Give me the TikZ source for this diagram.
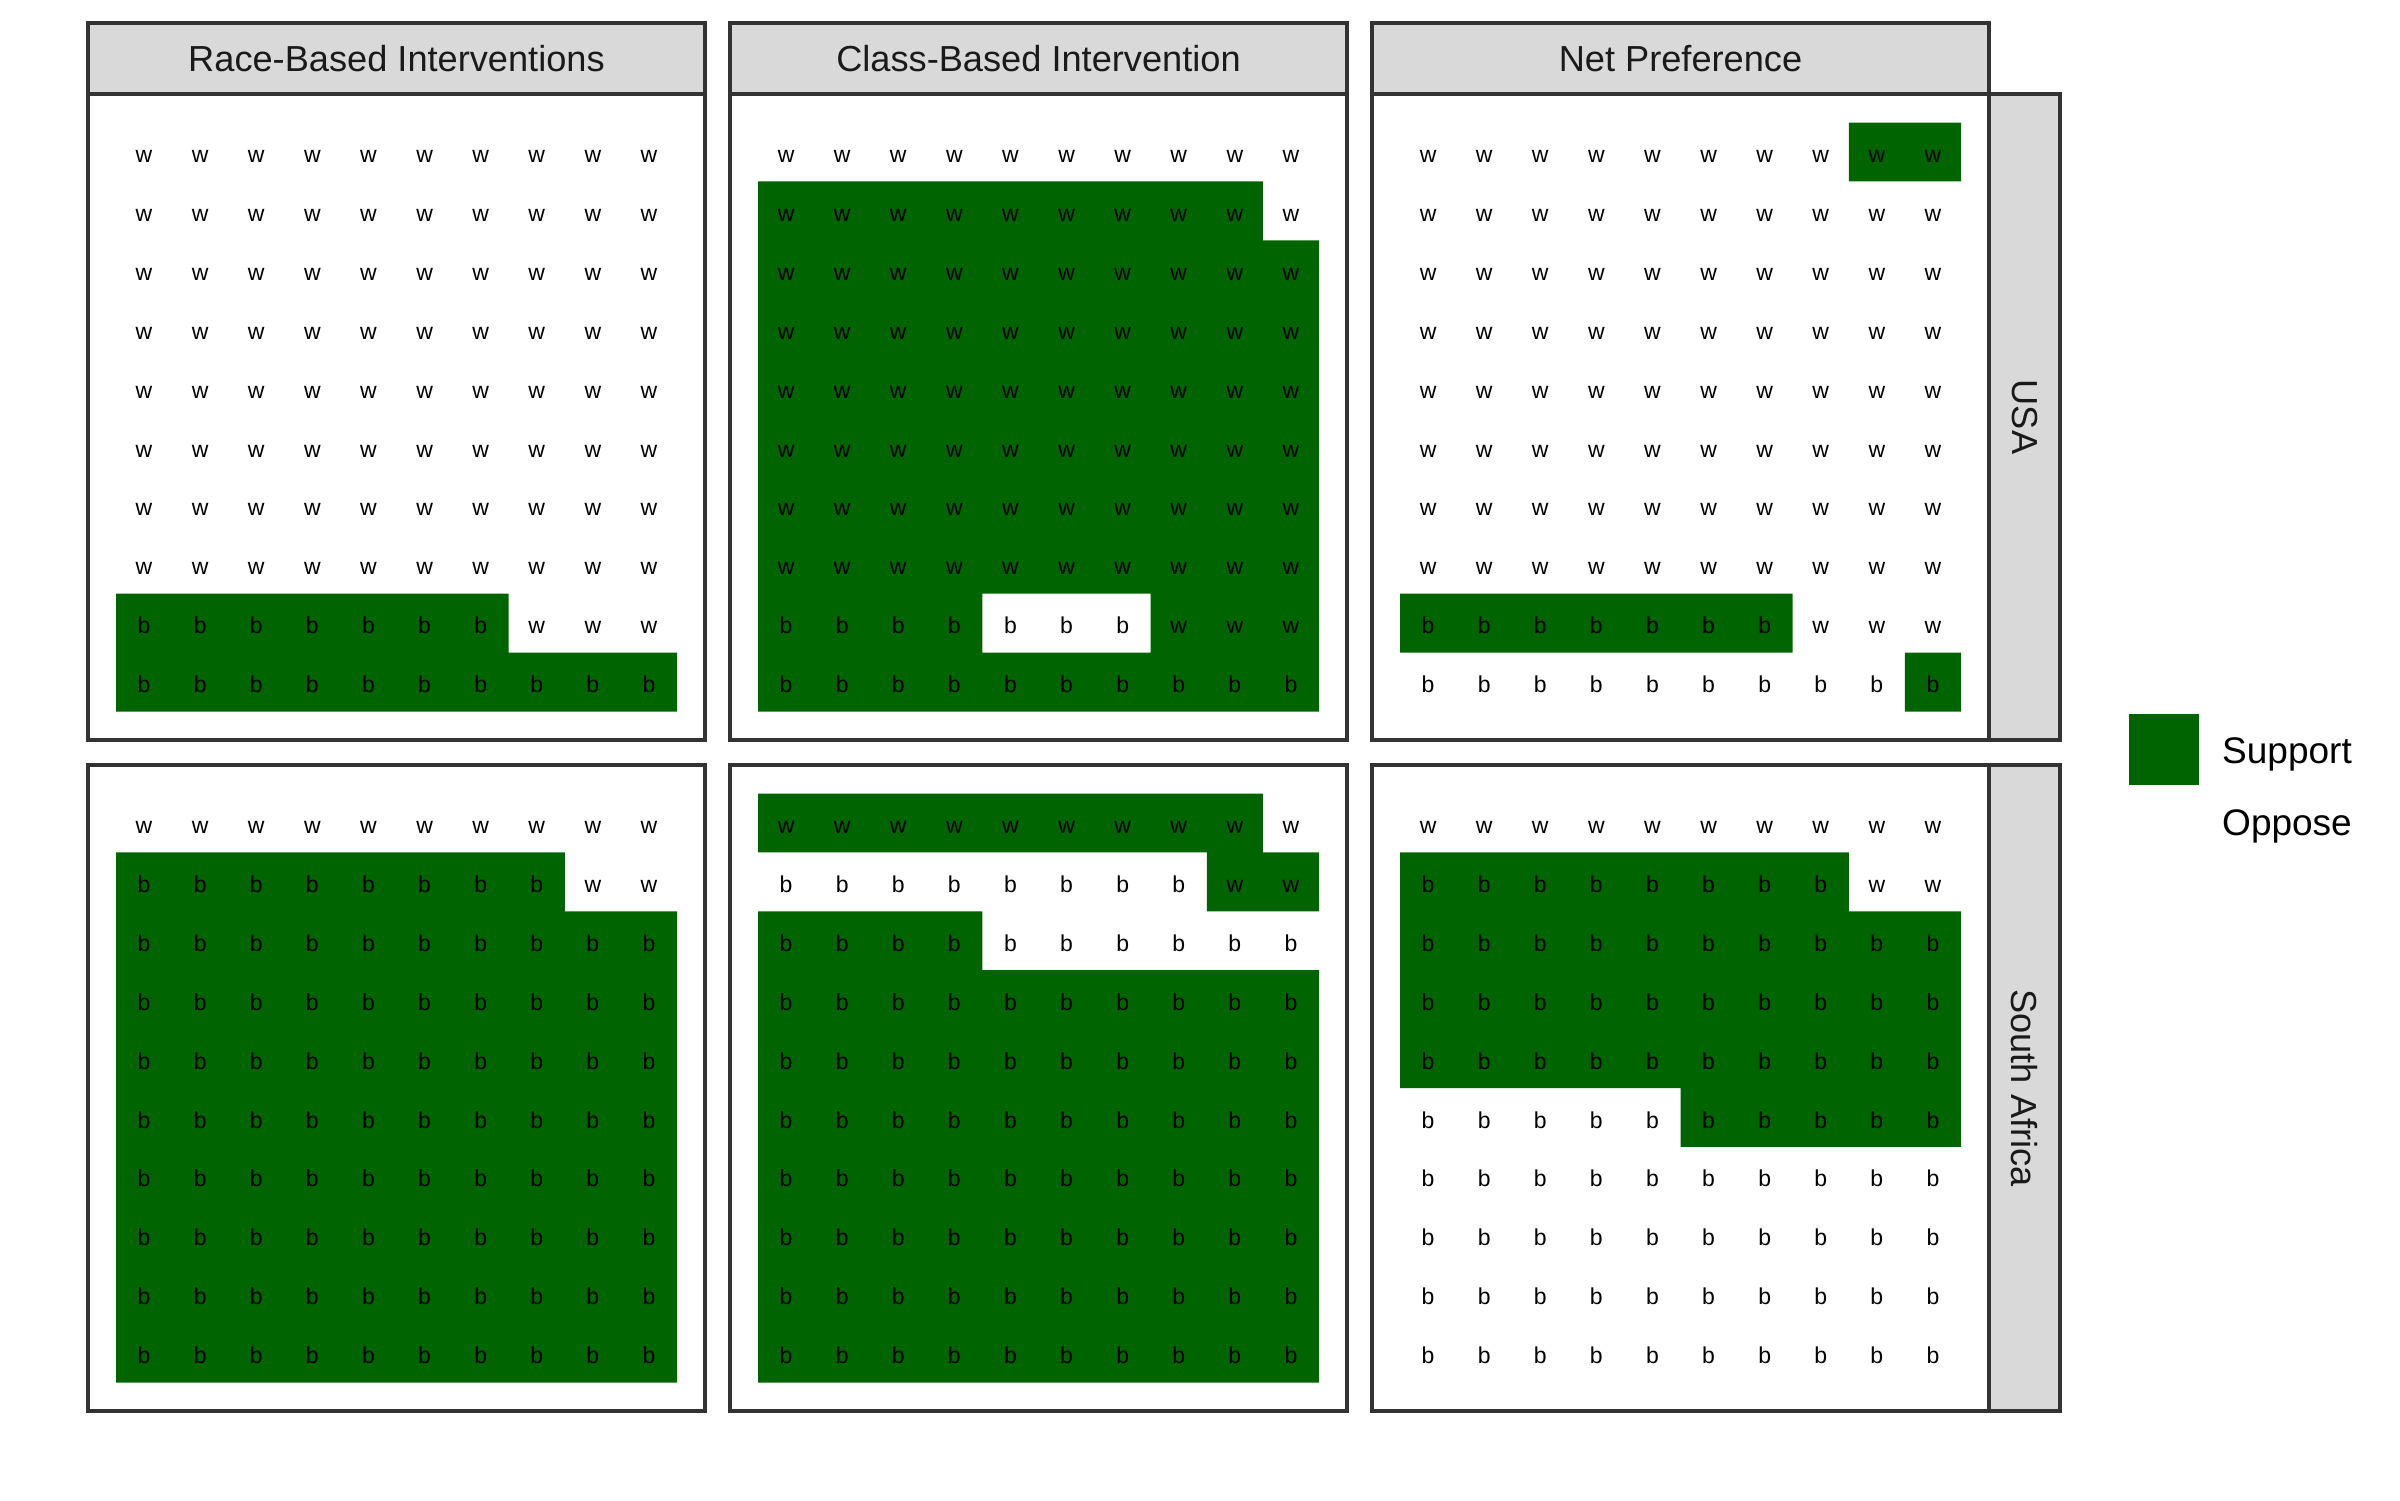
\documentclass[tikz,border=0pt]{standalone}
\usepackage{fontspec}
\setmainfont{Liberation Sans}
\usetikzlibrary{positioning}
\definecolor{supportgreen}{HTML}{006400}
\definecolor{framegrey}{HTML}{333333}
\definecolor{stripgrey}{HTML}{D9D9D9}
\definecolor{stripink}{HTML}{1A1A1A}
\tikzset{
    panel/.style={
        rectangle,
        draw=framegrey, line width=3.2pt,
        fill=white,
        minimum width=617pt,
        minimum height=646pt,
        inner sep=0pt, outer sep=0pt
    },
    stripbox/.style={
        rectangle,
        draw=framegrey, line width=3.2pt,
        fill=stripgrey,
        inner sep=0pt, outer sep=0pt
    },
    striptext/.style={
        text=stripink,
        inner sep=0pt,
        font=\fontsize{36.2}{43}\selectfont
    },
    tiletext/.style={
        anchor=base,
        inner sep=0pt,
        yshift=-10.6pt,
        font=\fontsize{23}{27}\selectfont
    },
    tiles/.style={
        shift={(#1.north west)},
        shift={(28pt,-28.5pt)},
        x=56.1pt, y=-58.9pt
    }
}

\begin{document}
\begin{tikzpicture}[
            x=1pt, y=-1pt,
            legendkey/.style={
                rectangle,
                fill=supportgreen,
                minimum size=70.5pt,
                inner sep=0pt
            },
            legendtext/.style={
                anchor=base west,
                inner sep=0pt,
                font=\fontsize{37}{44}\selectfont
            }]
    \useasboundingbox (0,0) rectangle (2400,1500);

    % panels
    \foreach \cname/\cx in {race/396.5, class/1038.5, net/1680.5}
        \foreach \rname/\ry in {usa/417, sa/1088}
            \node[panel] (\rname-\cname) at (\cx,\ry) {};

    % strips on top
    \node[stripbox, minimum width=617pt, minimum height=71pt, above=0pt of usa-race] (strip-race) {};
    \node[stripbox, minimum width=617pt, minimum height=71pt, above=0pt of usa-class] (strip-class) {};
    \node[stripbox, minimum width=617pt, minimum height=71pt, above=0pt of usa-net] (strip-net) {};
    \node[striptext] at (strip-race) {Race-Based Interventions};
    \node[striptext] at (strip-class) {Class-Based Intervention};
    \node[striptext] at (strip-net) {Net Preference};

    % strips on the right
    \node[stripbox, minimum width=71pt, minimum height=646pt, right=0pt of usa-net] (strip-usa) {};
    \node[stripbox, minimum width=71pt, minimum height=646pt, right=0pt of sa-net] (strip-sa) {};
    \node[striptext, rotate=-90] at (strip-usa) {USA};
    \node[striptext, rotate=-90] at (strip-sa) {South Africa};

    % support tiles
    \begin{scope}[tiles=usa-race]
        \fill[supportgreen] (0,8) rectangle (7,10) (7,9) rectangle (10,10);
    \end{scope}
    \begin{scope}[tiles=usa-class]
        \fill[supportgreen] (0,1) rectangle (9,2) (0,2) rectangle (10,8)
            (0,8) rectangle (4,9) (7,8) rectangle (10,9) (0,9) rectangle (10,10);
    \end{scope}
    \begin{scope}[tiles=usa-net]
        \fill[supportgreen] (8,0) rectangle (10,1) (0,8) rectangle (7,9) (9,9) rectangle (10,10);
    \end{scope}
    \begin{scope}[tiles=sa-race]
        \fill[supportgreen] (0,1) rectangle (8,2) (0,2) rectangle (10,10);
    \end{scope}
    \begin{scope}[tiles=sa-class]
        \fill[supportgreen] (0,0) rectangle (9,1) (8,1) rectangle (10,2)
            (0,2) rectangle (4,3) (0,3) rectangle (10,10);
    \end{scope}
    \begin{scope}[tiles=sa-net]
        \fill[supportgreen] (0,1) rectangle (8,2) (0,2) rectangle (10,5) (5,5) rectangle (10,6);
    \end{scope}

    % letters, b counted from the bottom left
    \foreach \cname in {race, class, net}
        \foreach \rname/\nb in {usa/17, sa/88} {
            \begin{scope}[tiles=\rname-\cname]
                \foreach \i in {1,...,10}
                    \foreach \j in {1,...,10}
                        \node[tiletext] (\rname-\cname-\i-\j) at (\i-0.5,\j-0.5)
                            {\ifnum\numexpr(10-\j)*10+\i\relax>\nb\relax w\else b\fi};
            \end{scope}
        }

    % legend
    \node[legendkey] (key-support) at (2164,749.5) {};
    \node[legendtext] (lab-support) at (2222,763) {Support};
    \node[legendtext] (lab-oppose) at (2222,835) {Oppose};
\end{tikzpicture}
\end{document}
